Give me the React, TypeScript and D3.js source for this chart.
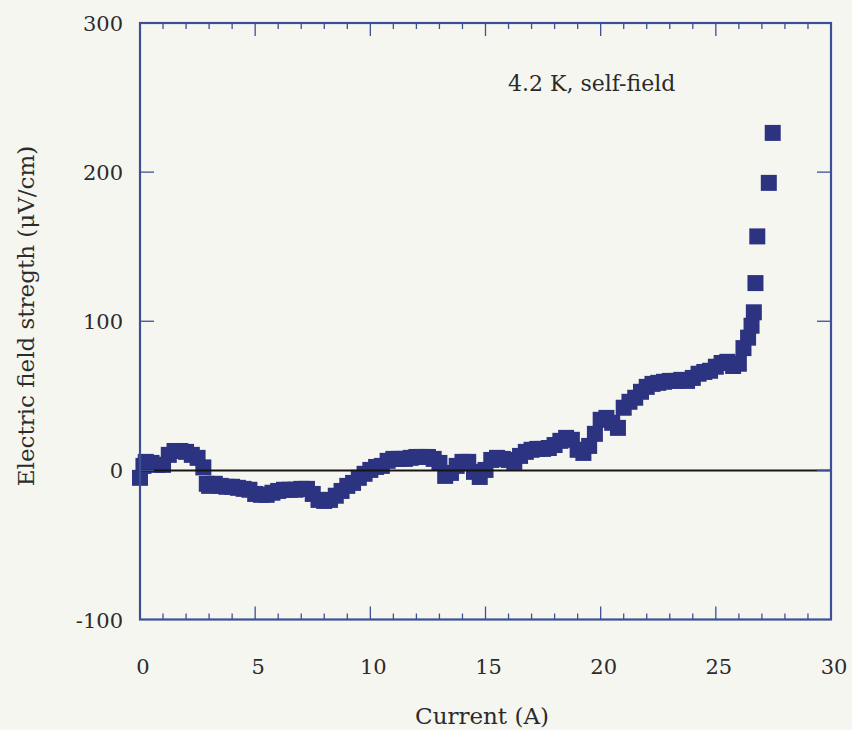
import React, { useEffect, useRef } from "react";
import * as d3 from "d3";

const currentA: number[] = [
  0.0, 0.15, 0.25, 0.5, 0.75, 1.0, 1.25, 1.5, 1.75, 2.0, 2.25, 2.5, 2.75, 2.9,
  3.0, 3.25, 3.5, 3.75, 4.0, 4.25, 4.5, 4.75, 5.0, 5.25, 5.5, 5.75, 6.0, 6.25,
  6.5, 6.75, 7.0, 7.25, 7.5, 7.75, 8.0, 8.25, 8.5, 8.75, 9.0, 9.25, 9.5, 9.75,
  10.0, 10.25, 10.5, 10.75, 11.0, 11.25, 11.5, 11.75, 12.0, 12.25, 12.5, 12.75,
  13.0, 13.25, 13.5, 13.75, 14.0, 14.25, 14.5, 14.75, 15.0, 15.25, 15.5, 15.75,
  16.0, 16.25, 16.5, 16.75, 17.0, 17.25, 17.5, 17.75, 18.0, 18.25, 18.5, 18.75,
  19.0, 19.25, 19.5, 19.75, 20.0, 20.25, 20.5, 20.75, 21.0, 21.25, 21.5, 21.75,
  22.0, 22.25, 22.5, 22.75, 23.0, 23.25, 23.5, 23.75, 24.0, 24.25, 24.5, 24.75,
  25.0, 25.25, 25.5, 25.75, 26.0, 26.2, 26.4, 26.55, 26.65, 26.72, 26.8, 27.3,
  27.47,
];

const fieldUVcm: number[] = [
  -5, 3, 5.7, 5, 3.7, 3.7, 10.4, 13, 13, 12.4, 10.4, 8.4, 2, -9,
  -10.4, -9, -10.4, -11, -11, -11.7, -12.4, -13, -15.8, -16.4, -16.4, -15, -13.8, -13,
  -13, -13, -12.4, -12.4, -15.8, -19.8, -20.5, -19.8, -17, -13.8, -10.4, -8.4, -5, -2.3,
  0.3, 2.3, 3, 6.4, 7.7, 7.7, 7.7, 8.4, 9, 9, 9, 7.7,
  5, -3.7, -1.7, 3, 5.7, 5.7, -1, -4.4, 0.3, 7, 8.4, 7.7,
  7, 5.7, 9.7, 12.4, 13.8, 14.4, 14.4, 15, 17, 19.8, 21.8, 20.5,
  13.8, 11.7, 16.4, 24.5, 33.9, 35.2, 31.9, 28.5, 42, 46, 48.7, 52.7,
  56, 58, 58.7, 59.4, 60, 60, 60.7, 60, 62, 64.8, 66, 66.8,
  69.5, 72, 72.8, 70, 71.5, 82, 89, 97, 106, 125.6, 156.9, 192.8,
  226.3,
];

const xTicks: number[] = [0, 5, 10, 15, 20, 25, 30];
const yTicks: number[] = [-100, 0, 100, 200, 300];
const xLabel = "Current (A)";
const yLabel = "Electric field stregth (\u03bcV/cm)";
const annotation = "4.2 K, self-field";

export default function App() {
  const ref = useRef<SVGSVGElement | null>(null);

  useEffect(() => {
    const W = 852;
    const H = 730;
    const left = 140;
    const right = 831;
    const top = 23;
    const bottom = 619.5;
    const svg = d3.select(ref.current);
    svg.selectAll("*").remove();

    const font = "'DejaVu Serif', 'Liberation Serif', serif";
    const frameColor = "#3d4f95";
    const markColor = "#2c3482";
    const textColor = "#2b2b2b";

    svg.append("rect").attr("x", 0).attr("y", 0).attr("width", W).attr("height", H).attr("fill", "#f6f6f1");

    const x = d3.scaleLinear().domain([0, 30]).range([left, right]);
    const y = d3.scaleLinear().domain([-100, 300]).range([bottom, top]);

    // markers
    const size = 16;
    const data = currentA.map((c, i) => ({ c, e: fieldUVcm[i] }));
    svg
      .append("g")
      .selectAll("rect")
      .data(data)
      .enter()
      .append("rect")
      .attr("x", (d) => x(d.c) - size / 2)
      .attr("y", (d) => y(d.e) - size / 2)
      .attr("width", size)
      .attr("height", size)
      .attr("fill", markColor);

    // zero line
    svg
      .append("line")
      .attr("x1", x(0))
      .attr("x2", x(30))
      .attr("y1", y(0))
      .attr("y2", y(0))
      .attr("stroke", "#151515")
      .attr("stroke-width", 2);

    // ticks (inward)
    const g = svg.append("g").attr("stroke", frameColor).attr("stroke-width", 1.3);
    d3.range(0, 31, 1).forEach((v) => {
      const isMajor = v % 5 === 0;
      const len = isMajor ? 13 : 6;
      if (v === 0 || v === 30) return;
      g.append("line").attr("x1", x(v)).attr("x2", x(v)).attr("y1", bottom).attr("y2", bottom - len);
      g.append("line").attr("x1", x(v)).attr("x2", x(v)).attr("y1", top).attr("y2", top + len);
    });
    yTicks.forEach((v) => {
      if (v === -100 || v === 300) return;
      g.append("line").attr("x1", left).attr("x2", left + 14).attr("y1", y(v)).attr("y2", y(v));
      g.append("line").attr("x1", right).attr("x2", right - 14).attr("y1", y(v)).attr("y2", y(v));
    });

    // frame
    svg
      .append("rect")
      .attr("x", left)
      .attr("y", top)
      .attr("width", right - left)
      .attr("height", bottom - top)
      .attr("fill", "none")
      .attr("stroke", frameColor)
      .attr("stroke-width", 2.2);

    // x tick labels
    svg
      .append("g")
      .selectAll("text")
      .data(xTicks)
      .enter()
      .append("text")
      .attr("x", (d) => x(d) + 3)
      .attr("y", 674)
      .attr("text-anchor", "middle")
      .attr("font-family", font)
      .attr("font-size", 21)
      .attr("fill", textColor)
      .text((d) => String(d));

    // y tick labels
    svg
      .append("g")
      .selectAll("text")
      .data(yTicks)
      .enter()
      .append("text")
      .attr("x", 123)
      .attr("y", (d) => y(d) + 8)
      .attr("text-anchor", "end")
      .attr("font-family", font)
      .attr("font-size", 21)
      .attr("fill", textColor)
      .text((d) => String(d));

    svg
      .append("text")
      .attr("x", 482)
      .attr("y", 724)
      .attr("text-anchor", "middle")
      .attr("font-family", font)
      .attr("font-size", 23)
      .attr("fill", textColor)
      .text(xLabel);

    svg
      .append("text")
      .attr("transform", `translate(34, 316) rotate(-90)`)
      .attr("text-anchor", "middle")
      .attr("font-family", font)
      .attr("font-size", 23)
      .attr("fill", textColor)
      .text(yLabel);

    svg
      .append("text")
      .attr("x", 508)
      .attr("y", 91)
      .attr("font-family", font)
      .attr("font-size", 22)
      .attr("fill", textColor)
      .text(annotation);
  }, []);

  return (
    <svg
      ref={ref}
      width={852}
      height={730}
      style={{ position: "absolute", left: 0, top: 0, display: "block" }}
    />
  );
}
